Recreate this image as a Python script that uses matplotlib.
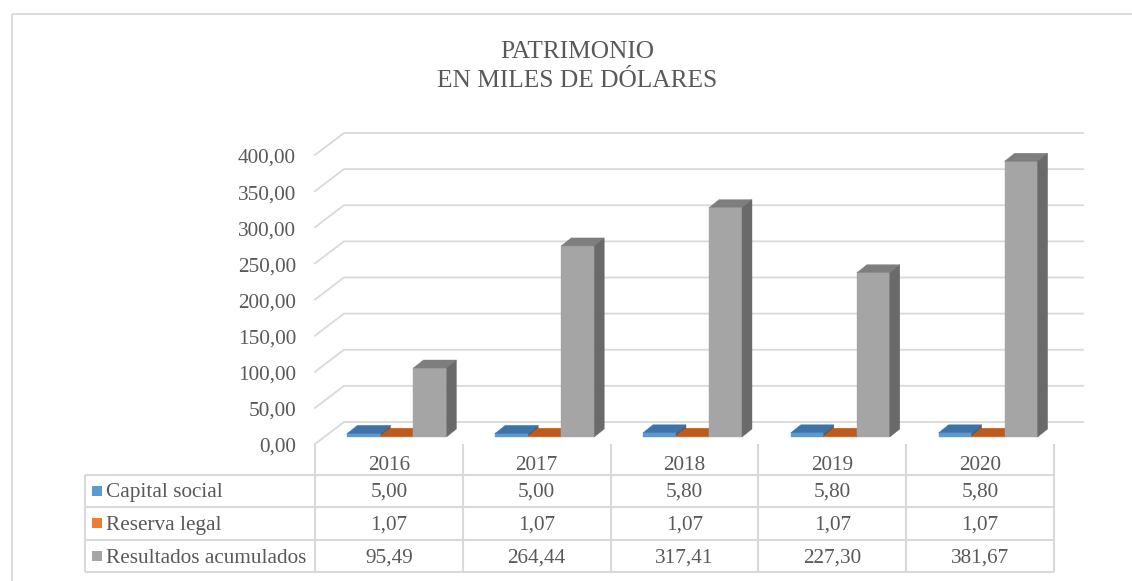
import matplotlib
matplotlib.use("Agg")
import matplotlib.pyplot as plt
from matplotlib.patches import Polygon, Rectangle
from matplotlib import transforms

# ---- data ----
years = ["2016", "2017", "2018", "2019", "2020"]
series_names = ["Capital social", "Reserva legal", "Resultados acumulados"]
capital_social = [5.00, 5.00, 5.80, 5.80, 5.80]
reserva_legal = [1.07, 1.07, 1.07, 1.07, 1.07]
resultados_acumulados = [95.49, 264.44, 317.41, 227.30, 381.67]
y_ticks = [0, 50, 100, 150, 200, 250, 300, 350, 400]

series = [capital_social, reserva_legal, resultados_acumulados]
front_cols = ["#5B9BD5", "#ED7D31", "#A5A5A5"]
top_cols = ["#3F72A6", "#BE5B1C", "#7E7E7E"]
side_cols = ["#3A6690", "#A24E18", "#6A6A6A"]
legend_cols = ["#5B9BD5", "#ED7D31", "#A5A5A5"]

TXT = "#595959"
GRID = "#D9D9D9"
FONT = "Liberation Serif"
FS = 15.3

def fmt(v):
    return f"{v:.2f}".replace(".", ",")

W, H = 1132, 581
fig = plt.figure(figsize=(W / 100, H / 100), dpi=100)
fig.patch.set_facecolor("white")

overlay = fig.add_axes([0, 0, 1, 1])
overlay.set_xlim(0, W)
overlay.set_ylim(H, 0)
overlay.axis("off")

x0_px, x1_px = 315, 1054
y0_px, y400_px = 444, 155
ax = fig.add_axes([x0_px / W, (H - y0_px) / H, (x1_px - x0_px) / W, (y0_px - y400_px) / H])
ax.set_xlim(0, 5)
ax.set_ylim(0, 400)
ax.axis("off")

px_x = 5 / (x1_px - x0_px)        # data units per pixel (x)
px_y = 400 / (y0_px - y400_px)    # data units per pixel (y)

# depth of the 3D box
DX, DY = 29 * px_x, 22 * px_y
# bar placement inside the depth
BX0, BY0 = 8 * px_x, 7 * px_y
BDX, BDY = 10 * px_x, 8 * px_y
BW = 33 * px_x

# outer frame
overlay.plot([12, W], [14, 14], color=GRID, lw=1.3, solid_capstyle="butt")
overlay.plot([12, 12], [14, H], color=GRID, lw=1.3, solid_capstyle="butt")

# title
overlay.text(577, 58, "PATRIMONIO", ha="center", va="baseline", fontsize=18.3,
             color=TXT, family=FONT)
overlay.text(577, 87, "EN MILES DE DÓLARES", ha="center", va="baseline", fontsize=18.3,
             color=TXT, family=FONT)

# gridlines (back wall + left slant) and value labels
for v in y_ticks:
    ax.plot([0, DX, 5 + DX], [v, v + DY, v + DY], color=GRID, lw=1.3,
            clip_on=False, zorder=1, solid_joinstyle="miter")
    ax.text(-0.128, v - 8 * px_y, fmt(v), ha="right", va="baseline",
            fontsize=FS, color=TXT, family=FONT, clip_on=False)

# bars
z = 5
for i in range(len(years)):
    left0 = i + 0.5 - 1.5 * BW + BX0
    for s, vals in enumerate(series):
        v = vals[i]
        xl = left0 + s * BW
        xr = xl + BW
        yb = BY0
        yt = BY0 + v
        ax.bar(xl, v, width=BW, bottom=yb, align="edge", color=front_cols[s],
               edgecolor=front_cols[s], lw=0.3, zorder=z, clip_on=False)
        ax.add_patch(Polygon([(xl, yt), (xr, yt), (xr + BDX, yt + BDY), (xl + BDX, yt + BDY)],
                             closed=True, facecolor=top_cols[s], edgecolor=top_cols[s],
                             lw=0.3, zorder=z, clip_on=False))
        ax.add_patch(Polygon([(xr, yb), (xr, yt), (xr + BDX, yt + BDY), (xr + BDX, yb + BDY)],
                             closed=True, facecolor=side_cols[s], edgecolor=side_cols[s],
                             lw=0.3, zorder=z, clip_on=False))
        z += 1

# data table
blend = transforms.blended_transform_factory(ax.transData, overlay.transData)
row_lines = [475, 507, 540, 572]
row_centers = [491, 523, 556]
row_baselines = [497, 530, 563]
table_left = 85

for c in range(len(years) + 1):
    overlay.plot([c, c], [444, 572], color=GRID, lw=1.5, transform=blend,
                 solid_capstyle="butt")
overlay.plot([table_left, table_left], [475, 572], color=GRID, lw=1.5, solid_capstyle="butt")
for yl in row_lines:
    overlay.plot([table_left, x1_px], [yl, yl], color=GRID, lw=1.5, solid_capstyle="butt")

for i, yr in enumerate(years):
    overlay.text(i + 0.5, 470, yr, ha="center", va="baseline", fontsize=FS,
                 color=TXT, family=FONT, transform=blend)

for s, name in enumerate(series_names):
    yc = row_centers[s]
    yb = row_baselines[s]
    overlay.add_patch(Rectangle((92, yc - 5), 10, 10, facecolor=legend_cols[s],
                                edgecolor="none"))
    overlay.text(106, yb, name, ha="left", va="baseline", fontsize=FS, color=TXT,
                 family=FONT)
    for i, v in enumerate(series[s]):
        overlay.text(i + 0.5, yb, fmt(v), ha="center", va="baseline", fontsize=FS,
                     color=TXT, family=FONT, transform=blend)

fig.savefig("out.png", dpi=100, facecolor="white")
